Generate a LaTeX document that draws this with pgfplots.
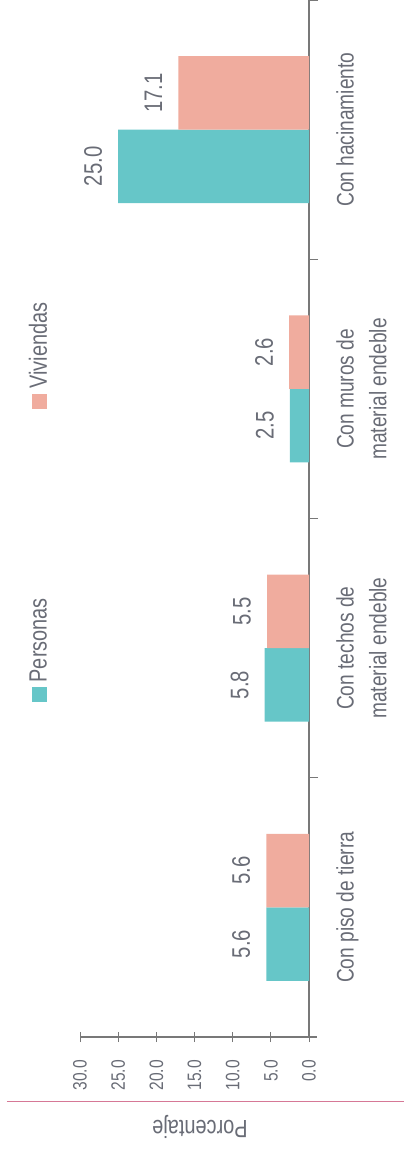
\documentclass[border=0pt]{standalone}
\usepackage{graphicx}
\usepackage{pgfplots}
\pgfplotsset{compat=1.18}
\usepackage{fontspec}
\setmainfont{Liberation Sans}[FakeStretch=0.8]

\definecolor{personas}{RGB}{102,198,200}
\definecolor{viviendas}{RGB}{240,172,158}
\definecolor{txt}{RGB}{105,108,118}
\definecolor{axisgray}{RGB}{120,120,120}
\definecolor{linered}{RGB}{214,120,150}

\begin{document}
\begin{tikzpicture}
% page = 404 x 1150, axis box corner at (0,0)
\path[use as bounding box] (-80bp,-113bp) rectangle (324bp,1037bp);
\begin{axis}[
    at={(0,0)}, anchor=south west,
    scale only axis,
    width=229bp, height=1037bp,
    xmin=-30, xmax=0,
    ymin=-0.5, ymax=3.5,
    clip=false,
    axis x line*=bottom,
    axis y line*=right,
    axis line style={draw=axisgray, line width=1.2bp, -},
    x axis line style={shorten >=-8bp},
    tick align=outside,
    major tick length=10bp,
    minor tick length=9bp,
    xtick={-30,-25,-20,-15,-10,-5,0},
    xticklabels={30.0,25.0,20.0,15.0,10.0,5.0,0.0},
    x tick style={draw=axisgray, line width=1bp, yshift=5bp},
    xticklabel style={rotate=90, anchor=east, inner sep=0pt,
        font=\fontsize{19.5}{20}\selectfont, text=txt},
    xticklabel shift=13bp,
    ytick={0,1,2,3},
    yticklabels={Con piso de tierra, {Con techos de\\material endeble},
        {Con muros de\\material endeble}, Con hacinamiento},
    major y tick style={draw=none},
    minor ytick={0.5,1.5,2.5,3.5},
    minor y tick style={draw=axisgray, line width=1bp},
    yticklabel style={rotate=90, anchor=north, align=center, inner sep=0pt,
        font=\fontsize{24}{33}\selectfont, text=txt},
    yticklabel shift=17bp,
    xlabel={Porcentaje},
    xlabel style={at={(axis description cs:0.524,-0.0868)}, anchor=center,
        rotate=180, font=\fontsize{25}{30}\selectfont, text=txt},
    nodes near coords={\rotatebox{90}{\pgfplotspointmeta}},
    point meta=explicit symbolic,
    nodes near coords style={anchor=center, xshift=-25bp, inner sep=0pt,
        font=\fontsize{25.5}{30}\selectfont, text=txt},
]
% Personas
\addplot[xbar, bar width=73.5bp, bar shift=-36.75bp, fill=personas, draw=none,
    every node near coord/.append style={yshift=-36.75bp}]
    coordinates {(-5.6,0) [5.6] (-5.8,1) [5.8] (-2.5,2) [2.5] (-25.0,3) [25.0]};
% Viviendas
\addplot[xbar, bar width=73.5bp, bar shift=36.75bp, fill=viviendas, draw=none,
    every node near coord/.append style={yshift=36.75bp}]
    coordinates {(-5.6,0) [5.6] (-5.5,1) [5.5] (-2.6,2) [2.6] (-17.1,3) [17.1]};
% legend, turned with the chart
\node[rotate=90, inner sep=0pt, text=txt, font=\fontsize{25}{30}\selectfont]
    at (axis description cs:-0.183,0.373)
    {\textcolor{personas}{\rule{15bp}{15bp}}\hspace{5bp}Personas};
\node[rotate=90, inner sep=0pt, text=txt, font=\fontsize{25}{30}\selectfont]
    at (axis description cs:-0.183,0.657)
    {\textcolor{viviendas}{\rule{15bp}{15bp}}\hspace{5bp}Viviendas};
\end{axis}
\draw[linered, line width=0.8bp] (-73bp,-64bp) -- (324bp,-64bp);
\end{tikzpicture}
\end{document}
